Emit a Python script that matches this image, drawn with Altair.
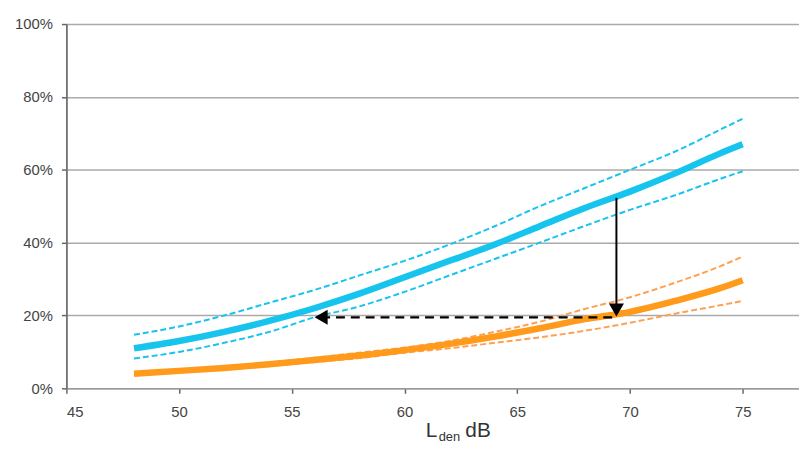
import altair as alt
import pandas as pd

# ---- data ----
x_vals = [48, 50, 52, 54, 56, 58, 60, 62, 64, 66, 68, 70, 72, 74, 75]
blue = [11.0, 13.0, 15.5, 18.5, 22.0, 26.0, 30.5, 35.0, 39.5, 44.5, 49.5, 54.0, 59.0, 64.5, 67.0]
blue_hi = [14.7, 17.0, 20.0, 23.5, 27.0, 31.0, 35.0, 39.5, 44.5, 50.0, 55.0, 60.0, 65.0, 71.0, 74.0]
blue_lo = [8.2, 10.0, 12.5, 15.5, 19.5, 22.5, 26.5, 31.0, 35.5, 40.0, 44.6, 49.0, 53.0, 57.5, 59.6]
orange = [4.0, 4.8, 5.6, 6.6, 7.8, 9.0, 10.5, 12.2, 14.2, 16.5, 19.0, 21.0, 24.0, 27.5, 29.7]
orange_hi = [4.3, 5.1, 6.0, 7.1, 8.4, 9.8, 11.2, 13.0, 15.5, 18.3, 21.8, 25.0, 29.0, 33.5, 36.2]
orange_lo = [3.7, 4.5, 5.2, 6.1, 7.2, 8.3, 9.8, 11.0, 12.5, 14.0, 15.8, 18.0, 20.5, 22.8, 24.0]

# arrows
v_arrow_x = [69.4, 69.4]
v_arrow_y = [52.3, 21.5]
h_arrow_x = [69.4, 56.3]
h_arrow_y = [19.5, 19.5]
tick_x = [45, 50, 55, 60, 65, 70, 75]
tick_y = [0, 20, 40, 60, 80, 100]

BLUE = "#17C4EE"
ORANGE = "#FF9A1A"
ORANGE_D = "#FFA050"

rows = []
for name, ys in [("blue", blue), ("blue_hi", blue_hi), ("blue_lo", blue_lo),
                 ("orange", orange), ("orange_hi", orange_hi), ("orange_lo", orange_lo)]:
    for xv, yv in zip(x_vals, ys):
        rows.append({"x": xv, "y": yv, "s": name})
df = pd.DataFrame(rows)

xs = alt.Scale(domain=[45, 77.5], nice=False, zero=False)
ys_ = alt.Scale(domain=[0, 100], nice=False)

X = alt.X("x:Q", scale=xs, axis=alt.Axis(values=tick_x, title=None, grid=False,
                                          labelFontSize=15, labelColor="#444444",
                                          labelFont="Liberation Sans", labelPadding=11,
                                          tickColor="#666666", tickSize=5, tickWidth=1.5,
                                          domainColor="#9a9a9a", domainWidth=1.5))
Y = alt.Y("y:Q", scale=ys_, axis=alt.Axis(values=tick_y, title=None, grid=True,
                                           gridColor="#aaaaaa", gridWidth=1.5,
                                           labelExpr="datum.value + '%'",
                                           labelFontSize=15, labelColor="#444444",
                                           labelFont="Liberation Sans", labelPadding=9,
                                           tickColor="#666666", tickSize=5, tickWidth=1.5,
                                           domainColor="#707070", domainWidth=1.8))

base = alt.Chart(df)


def series(name, color, width, dash=None):
    kw = dict(color=color, strokeWidth=width, interpolate="monotone", strokeCap="butt")
    if dash:
        kw["strokeDash"] = dash
    return base.transform_filter(alt.datum.s == name).mark_line(**kw).encode(x=X, y=Y)


lines = [
    series("orange_hi", ORANGE_D, 2, [6, 3]),
    series("orange_lo", ORANGE_D, 2, [6, 3]),
    series("orange", ORANGE, 6.5),
    series("blue_hi", BLUE, 2, [6, 3]),
    series("blue_lo", BLUE, 2, [6, 3]),
    series("blue", BLUE, 6.5),
]

adf_v = pd.DataFrame({"x": v_arrow_x, "y": v_arrow_y})
adf_h = pd.DataFrame({"x": h_arrow_x, "y": h_arrow_y})

v_line = alt.Chart(adf_v).mark_line(color="black", strokeWidth=2).encode(x=X, y=Y)
h_line = alt.Chart(adf_h).mark_line(color="black", strokeWidth=2.2, strokeDash=[9, 6]).encode(x=X, y=Y)

v_head = alt.Chart(pd.DataFrame({"x": [v_arrow_x[1]], "y": [v_arrow_y[1]]})).mark_point(
    shape="triangle-down", filled=True, color="black", size=230, opacity=1).encode(x=X, y=Y)
h_head = alt.Chart(pd.DataFrame({"x": [h_arrow_x[1]], "y": [h_arrow_y[1]]})).mark_point(
    shape="triangle-left", filled=True, color="black", size=230, opacity=1).encode(x=X, y=Y)

# axis title with subscript: L_den dB
t_L = alt.Chart(pd.DataFrame({"t": ["L"]})).mark_text(
    font="Liberation Sans", fontSize=21, color="#333333", align="left", baseline="alphabetic"
).encode(text="t:N", x=alt.value(363), y=alt.value(417))
t_den = alt.Chart(pd.DataFrame({"t": ["den"]})).mark_text(
    font="Liberation Sans", fontSize=13, color="#333333", align="left", baseline="alphabetic"
).encode(text="t:N", x=alt.value(376), y=alt.value(421))
t_dB = alt.Chart(pd.DataFrame({"t": ["dB"]})).mark_text(
    font="Liberation Sans", fontSize=21, color="#333333", align="left", baseline="alphabetic"
).encode(text="t:N", x=alt.value(403), y=alt.value(417))

chart = alt.layer(*lines, v_line, h_line, v_head, h_head, t_L, t_den, t_dB).properties(
    width=740, height=368,
    autosize=alt.AutoSizeParams(type="none"),
    padding={"left": 59, "top": 14, "right": 0, "bottom": 54},
    background="white",
).configure_view(stroke=None)

chart.save("out.html", embed_options={"renderer": "svg", "actions": False})
